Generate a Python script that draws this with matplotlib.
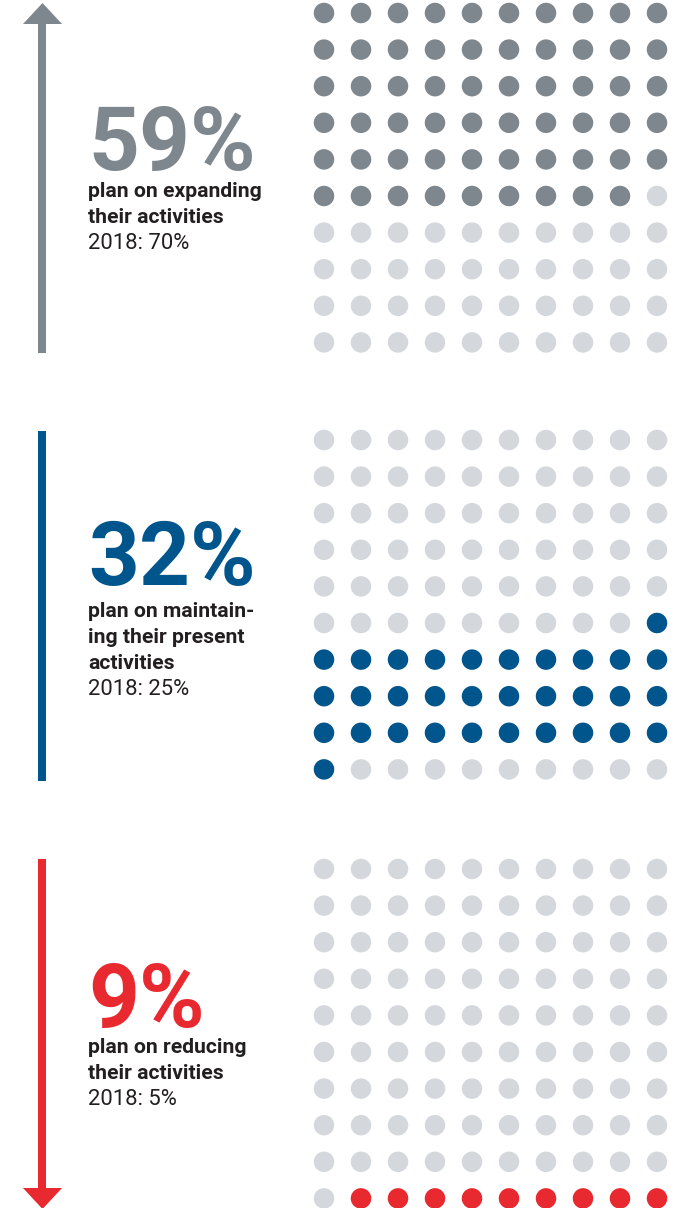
import matplotlib
matplotlib.use("Agg")
import matplotlib.pyplot as plt
from matplotlib.patches import Polygon
import numpy as np

# Survey shares (2019) and the previous year's values
groups = ["expand", "maintain", "reduce"]
share_now = [59, 32, 9]
share_2018 = [70, 25, 5]
descriptions = [
    ["plan on expanding", "their activities"],
    ["plan on maintain-", "ing their present", "activities"],
    ["plan on reducing", "their activities"],
]
accent_colors = ["#7f878e", "#00558c", "#e8292f"]
empty_color = "#d4d8dc"
text_color = "#231f20"

W, H = 674, 1208
fig = plt.figure(figsize=(W / 100, H / 100), dpi=100)
ax = fig.add_axes([0, 0, 1, 1])
ax.set_xlim(0, W)
ax.set_ylim(H, 0)
ax.axis("off")

# Grid layout (pixels)
col0, dcol = 324, 37.0
row_step = 36.6
panel_tops = [13, 440, 869]
dot_d = 20.5  # px
dot_s = (dot_d * 72 / 100) ** 2

cols, rows = np.meshgrid(np.arange(10), np.arange(10))
cols = cols.ravel()
rows = rows.ravel()

start = 0
for k, value in enumerate(share_now):
    idx = np.arange(100)
    filled = (idx >= start) & (idx < start + value)
    colors = np.where(filled, accent_colors[k], empty_color)
    xs = col0 + cols * dcol
    ys = panel_tops[k] + rows * row_step
    ax.scatter(xs, ys, s=dot_s, c=list(colors), edgecolors="none")
    start += value

# Side bars / arrows
lw = 8 * 72 / 100
xa = 42
ax.plot([xa, xa], [24, 353], color=accent_colors[0], lw=lw, solid_capstyle="butt")
ax.add_patch(Polygon([[23, 24], [62, 24], [42.5, 3]], closed=True,
                     color=accent_colors[0], lw=0))
ax.plot([xa, xa], [431, 781], color=accent_colors[1], lw=lw, solid_capstyle="butt")
ax.plot([xa, xa], [859, 1189], color=accent_colors[2], lw=lw, solid_capstyle="butt")
ax.add_patch(Polygon([[23, 1188], [62, 1188], [42.5, 1209]], closed=True,
                     color=accent_colors[2], lw=0))

# Labels
fam = ["Roboto", "DejaVu Sans"]
big_base = [170, 585, 1027]
first_line = [197, 617, 1053]
line_gap = 26
tx = 88
for k in range(3):
    ax.text(tx, big_base[k], f"{share_now[k]}%", fontsize=64, fontweight="bold",
            color=accent_colors[k], family=fam, va="baseline", ha="left")
    y = first_line[k]
    for line in descriptions[k]:
        ax.text(tx, y, line, fontsize=15.2, fontweight="bold", color=text_color,
                family=fam, va="baseline", ha="left")
        y += line_gap
    ax.text(tx, y, f"2018: {share_2018[k]}%", fontsize=15.8, fontweight="normal",
            color=text_color, family=fam, va="baseline", ha="left")

fig.savefig("out.png", dpi=100)
